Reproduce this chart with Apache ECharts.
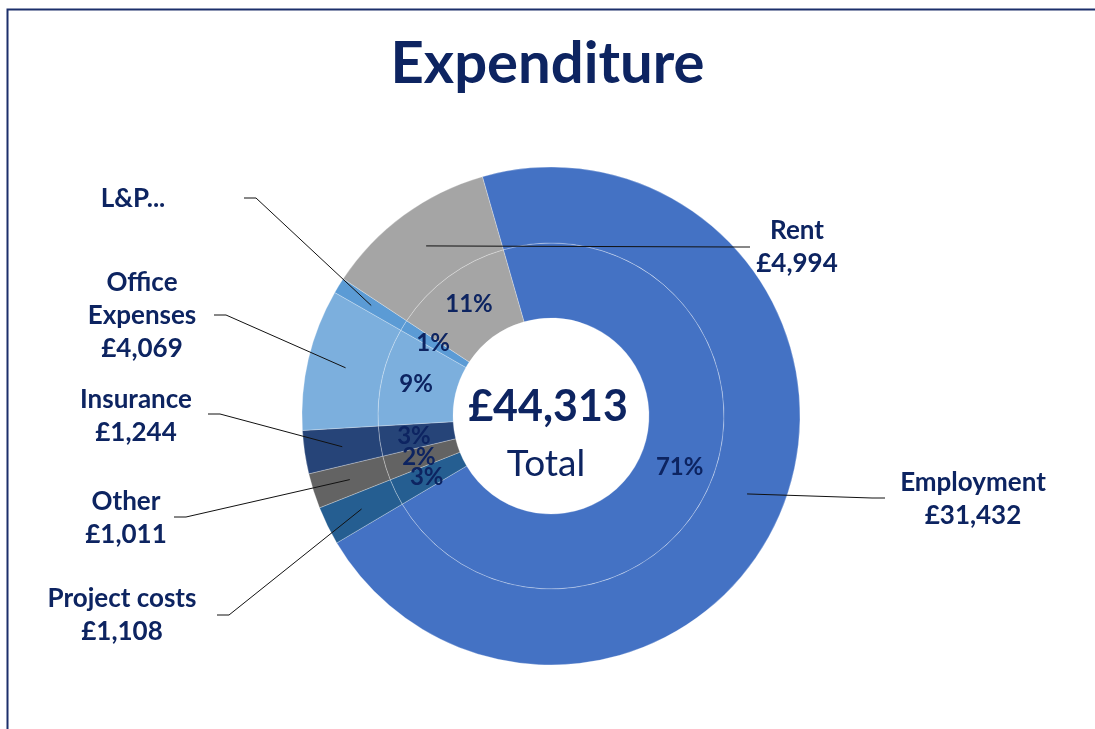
<!DOCTYPE html>
<html>
<head>
<meta charset="utf-8">
<script src="https://cdn.jsdelivr.net/npm/echarts@6/dist/echarts.min.js"></script>
<style>
  html, body { margin: 0; padding: 0; background: #fff; }
  #main { width: 1095px; height: 729px; }
</style>
</head>
<body>
<div id="main"></div>
<script>
// data (clockwise from the top)
const categories = ['Employment', 'Project costs', 'Other', 'Insurance', 'Office\nExpenses', 'L&P...', 'Rent']
const values = [31432, 1108, 1011, 1244, 4069, 455, 4994]
const colors = ['#4472C4', '#255E91', '#636363', '#264478', '#7CAFDD', '#5B9BD5', '#A5A5A5']

const textColor = '#0d2461'
const font = 'Lato'
const CX = 551, CY = 416
const START = 106

// where each outside label sits (text centre) and where its leader line ends
const labelAt = [[973, 499], [122, 615], [126, 518], [136, 416], [142, 316], [133, 199], [797, 247]]
const lineEnd = [[885, 498], [217, 615], [174, 517], [208, 414], [214, 315], [244, 198], [750, 247]]

const total = values.reduce((a, b) => a + b, 0)
const money = v => '£' + v.toLocaleString('en-GB')

let pieData = categories.map((name, i) => ({
  name: name,
  value: values[i],
  itemStyle: {color: colors[i]}
}))

// leader lines: start inside each slice (mid angle), bend, then a short level run to the label
let leaders = []
let cum = 0
values.forEach((v, i) => {
  let mid = (START - (cum + v / 2) / total * 360) * Math.PI / 180
  cum += v
  let start = [CX + 211 * Math.cos(mid), CY - 211 * Math.sin(mid)]
  let end = lineEnd[i]
  let bend = [end[0] + (labelAt[i][0] > CX ? -13 : 12), end[1]]
  leaders.push({
    type: 'polyline',
    shape: {points: [start, bend, end]},
    style: {stroke: '#111', lineWidth: 1, fill: null},
    silent: true,
    z: 20
  })
})

let ring = {
  type: 'pie',
  center: [CX, CY],
  startAngle: START,
  clockwise: true,
  silent: true,
  itemStyle: {borderColor: 'rgba(255,255,255,0.35)', borderWidth: 0.8},
  emphasis: {disabled: true}
}

let myChart = echarts.init(document.getElementById('main'))
let option = {
  backgroundColor: '#fff',
  animation: false,
  title: {
    text: 'Expenditure',
    left: 'center',
    top: 30,
    textStyle: {color: textColor, fontFamily: font, fontSize: 58, fontWeight: 'bold'}
  },
  graphic: [
    {
      type: 'rect',
      shape: {x: 7.5, y: 9.5, width: 1200, height: 800},
      style: {fill: null, stroke: '#1c2f6b', lineWidth: 2},
      silent: true
    },
    {
      type: 'text',
      x: CX - 3, y: CY - 9,
      style: {
        text: money(total), fill: textColor, font: 'bold 43px ' + font,
        textAlign: 'center', textVerticalAlign: 'middle'
      },
      z: 10
    },
    {
      type: 'text',
      x: CX - 5, y: CY + 48,
      style: {
        text: 'Total', fill: textColor, font: '37px ' + font,
        textAlign: 'center', textVerticalAlign: 'middle'
      },
      z: 10
    }
  ].concat(leaders),
  series: [
    Object.assign({}, ring, {
      // inner ring: percentages
      name: 'pct',
      radius: [98, 173],
      percentPrecision: 0,
      data: pieData,
      label: {
        show: true,
        position: 'inside',
        formatter: '{d}%',
        color: textColor,
        fontFamily: font,
        fontSize: 24,
        fontWeight: 'bold',
        padding: [6, 0, 0, 0]
      },
      labelLine: {show: false},
      labelLayout: {hideOverlap: false}
    }),
    Object.assign({}, ring, {
      // outer ring: names and values
      name: 'names',
      radius: [173, 249],
      data: pieData,
      label: {
        show: true,
        position: 'outside',
        formatter: p => p.name.endsWith('...') ? p.name : p.name + '\n' + money(p.value),
        color: textColor,
        fontFamily: font,
        fontSize: 26,
        fontWeight: 'bold',
        lineHeight: 33
      },
      labelLine: {show: false},
      labelLayout: function (params) {
        let i = params.dataIndex
        return {
          x: labelAt[i][0],
          y: labelAt[i][1],
          align: 'center',
          verticalAlign: 'middle'
        }
      }
    })
  ]
}
myChart.setOption(option)
</script>
</body>
</html>
